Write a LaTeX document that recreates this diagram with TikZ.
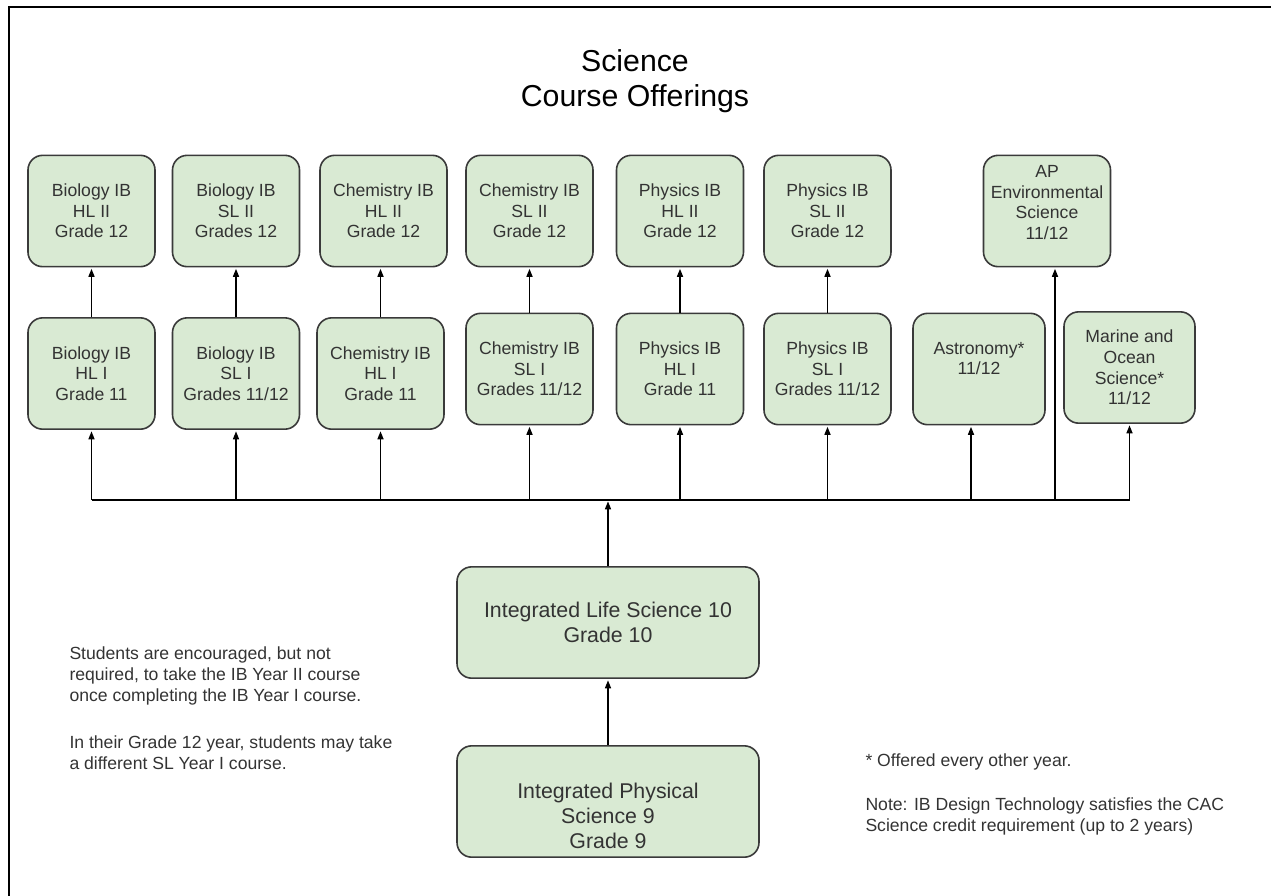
\documentclass[tikz,border=0pt]{standalone}
\usepackage{fontspec}
\setmainfont{Liberation Sans}
\usetikzlibrary{arrows.meta}

\definecolor{boxfill}{HTML}{D9EAD3}
\definecolor{boxline}{HTML}{3A3A3A}
\definecolor{txtgray}{HTML}{333333}

\tikzset{every picture/.style={line width=0.75pt}}
\tikzset{
  course/.style={draw=boxline, fill=boxfill, line width=1.2pt, rounded corners=11pt,
    minimum width=95.25pt, minimum height=83.5pt, inner sep=0pt, align=center,
    text=txtgray, font=\fontsize{13.2}{15.4}\selectfont},
  widecourse/.style={course, minimum width=226.5pt, font=\fontsize{16}{18.75}\selectfont},
  link/.style={line width=1.1pt, -{Triangle[length=6pt,width=4.5pt]}, shorten >=1pt},
  note/.style={inner sep=0pt, align=left, text=txtgray, font=\fontsize{13.2}{15.75}\selectfont}
}

\begin{document}
\begin{tikzpicture}[x=0.75pt,y=0.75pt,yscale=-1,xscale=1]
    \useasboundingbox (0,0) rectangle (1271,896);
    %Frame: only left and top edges show
    \draw [line width=1.5pt] (9,896) -- (9,7) -- (1271,7);
    % Title
    \node [inner sep=0pt, align=center, font=\fontsize{22.7}{26.25}\selectfont] (title) at (635,81) {Science\\Course Offerings};

    %Shape: Year II courses
    \node [course] (bioHLii) at (91.5,211) {Biology IB\\HL II\\Grade 12};
    \node [course] (bioSLii) at (236,211) {Biology IB\\SL II\\Grades 12};
    \node [course] (chemHLii) at (383.5,211) {Chemistry IB\\HL II\\Grade 12};
    \node [course] (chemSLii) at (529.5,211) {Chemistry IB\\SL II\\Grade 12};
    \node [course] (physHLii) at (680,211) {Physics IB\\HL II\\Grade 12};
    \node [course] (physSLii) at (827.5,211) {Physics IB\\SL II\\Grade 12};
    \node [course, text depth=13pt] (apenv) at (1047,211) {AP\\Environmental\\Science\\11/12};

    %Shape: Year I courses
    \node [course] (bioHLi) at (91.5,373.5) {Biology IB\\HL I\\Grade 11};
    \node [course] (bioSLi) at (236,373.5) {Biology IB\\SL I\\Grades 11/12};
    \node [course] (chemHLi) at (380.5,373.5) {Chemistry IB\\HL I\\Grade 11};
    \node [course] (chemSLi) at (529.5,369) {Chemistry IB\\SL I\\Grades 11/12};
    \node [course] (physHLi) at (680,369) {Physics IB\\HL I\\Grade 11};
    \node [course] (physSLi) at (827.5,369) {Physics IB\\SL I\\Grades 11/12};
    \node [course, minimum width=99pt, text depth=16pt] (astro) at (979,369) {Astronomy*\\11/12};
    \node [course, minimum width=98.25pt] (marine) at (1129.5,367.5) {Marine and\\Ocean\\Science*\\11/12};

    %Shape: grades 9 and 10
    \node [widecourse] (life) at (608,622.5) {Integrated Life Science 10\\Grade 10};
    \node [widecourse, text height=70pt] (phys9) at (608,801.5) {Integrated Physical\\Science 9\\Grade 9};

    % Year I to Year II
    \foreach \a/\b in {bioHLi/bioHLii, bioSLi/bioSLii, chemHLi/chemHLii, chemSLi/chemSLii, physHLi/physHLii, physSLi/physSLii}
        \draw [link] (\a.north) -- (\a.north |- \b.south);

    % Bus line
    \coordinate (busL) at (91.5,500);
    \coordinate (busR) at (1129.5,500);
    \draw [line width=1.1pt] (busL) -- (busR);
    \foreach \n in {bioHLi, bioSLi, chemHLi, chemSLi, physHLi, physSLi, marine}
        \draw [link] (\n.south |- busL) -- (\n.south);
    \draw [link] ([xshift=-6pt]astro.south |- busL) -- ([xshift=-6pt]astro.south);
    \draw [link] ([xshift=6pt]apenv.south |- busL) -- ([xshift=6pt]apenv.south);

    % Lower grades
    \draw [link] (life.north) -- (life.north |- busL);
    \draw [link] (phys9) -- (life);

    % Text Node
    \node [note, anchor=north west] (encourage) at (69,646) {Students are encouraged, but not\\required, to take the IB Year II course\\once completing the IB Year I course.\\[19.5pt]In their Grade 12 year, students may take\\a different SL Year I course.};
    % Text Node
    \node [note, anchor=north west] (offered) at (865,753) {* Offered every other year.\\[17.25pt]Note: IB Design Technology satisfies the CAC\\Science credit requirement (up to 2 years)};
\end{tikzpicture}
\end{document}
